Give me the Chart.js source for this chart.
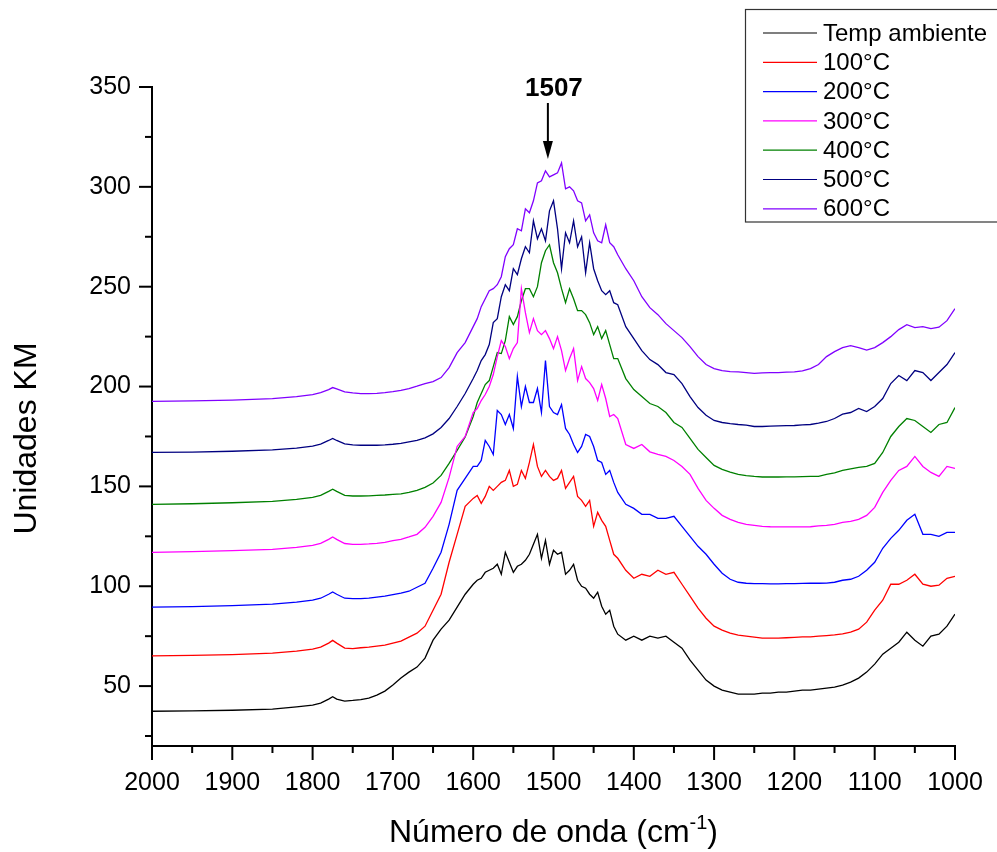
<!DOCTYPE html>
<html>
<head>
<meta charset="utf-8">
<script src="https://cdn.jsdelivr.net/npm/chart.js@4.4.0/dist/chart.umd.min.js"></script>
<style>
  html, body { margin: 0; padding: 0; background: #fff; }
</style>
</head>
<body>
<canvas id="chart" width="997" height="852"></canvas>
<script>
// wavenumber grid (cm-1), shared by all spectra
const wn = [
  2000, 1950, 1900, 1850, 1820, 1800, 1790, 1780, 1775, 1770, 1760, 1750, 1740, 1730, 1720, 1710, 1700, 1690, 1680, 1670, 1660, 1650, 1640, 1630, 1620, 1610, 1600,
  1595, 1590, 1585, 1580, 1575, 1570, 1565, 1560, 1555, 1550, 1545, 1540, 1535, 1530, 1525, 1520, 1515, 1510, 1505, 1500, 1495, 1490, 1485, 1480, 1475, 1470, 1465, 1460, 1455, 1450, 1445, 1440, 1435, 1430, 1425, 1420,
  1410, 1400, 1390, 1380, 1370, 1360, 1350, 1340, 1330, 1320, 1310, 1300, 1290, 1280, 1270, 1260, 1250, 1240, 1230, 1220, 1210, 1200, 1190, 1180, 1170, 1160, 1150, 1140, 1130, 1120, 1110, 1100, 1090, 1080, 1070, 1060, 1050, 1040, 1030, 1020, 1010, 1000
];

const tAmb = [
  37.4, 37.6, 37.9, 38.5, 39.6, 40.5, 41.5, 43.5, 44.7, 43.5, 42.5, 42.8, 43.2, 44, 45.5, 47.5, 50.5, 54, 57, 59.5, 64, 73, 78.5, 83, 89.5, 96, 101,
  103, 104, 107, 108, 109, 111, 106, 117, 112, 107, 110, 111, 113, 116, 121, 126, 114, 123, 111, 118, 116, 117, 106, 108, 111, 103, 100, 99, 96, 94, 97, 90, 86, 88, 80, 76,
  73, 75, 73, 75, 74, 75, 72, 69, 63, 58, 53, 50, 48, 47, 46, 46, 46, 46.5, 46.5, 47, 47, 47.5, 48, 48, 48.5, 49, 49.5, 50.5, 52, 54, 57, 61, 66, 69, 72, 77, 73, 70, 75, 76, 80, 86
];
const t100 = [
  65.1, 65.4, 65.8, 66.5, 67.5, 68.5, 69.5, 71.5, 72.9, 71.5, 69, 68.8, 69.2, 69.5, 70, 70.5, 71.5, 72.5, 74.5, 76.5, 80, 88, 96, 112, 126, 140, 144,
  145.5, 141.5, 145, 150, 148, 150, 152, 153, 158, 150, 151, 158, 154, 162, 171, 160, 155, 158, 155, 153, 154, 158, 149, 152, 155, 145, 143, 140, 143, 130, 137, 133, 130, 123, 116, 114,
  108, 104, 106, 105, 108, 106, 107, 101, 95, 89, 84, 80, 78, 76.5, 75.5, 75, 74.5, 74, 74, 74, 74.2, 74.4, 74.6, 74.6, 75, 75.3, 75.6, 76.2, 77, 78.5, 82, 88, 93, 101, 101, 103, 106, 101, 100, 100.5, 104, 105
];
const t200 = [
  89.5, 89.8, 90.3, 91, 92, 93, 94, 96, 97.1, 96, 94, 93.8, 93.8, 94, 94.5, 95, 95.8, 96.5, 97.5, 99.5, 101.5, 109, 117, 131, 148, 154, 160,
  160, 163, 173, 170, 166, 188, 186, 181, 186, 179, 205, 190, 200, 192, 192, 199, 187, 213, 190, 187, 186, 191, 179, 176, 171, 167, 170, 176, 175, 170, 163, 162, 156, 158, 152, 147,
  141, 139, 136, 136, 134, 134, 135, 130, 125, 120, 116, 111, 106.5, 103.5, 102, 101.5, 101.3, 101.3, 101.2, 101.2, 101.3, 101.3, 101.4, 101.5, 101.5, 101.6, 102, 103, 103.5, 105, 108, 112, 119, 124, 128, 133, 136, 126, 126, 125, 127, 127
];
const t300 = [
  117, 117.3, 117.8, 118.5, 119.5, 120.5, 121.5, 123.5, 124.7, 123.5, 121.4, 121, 121, 121.2, 121.5, 122, 122.8, 123.5, 124.7, 126, 129.5, 135, 142, 154.5, 170, 175, 187,
  189, 193, 196, 200, 206, 215, 223, 220, 214, 219, 222, 249, 237, 227, 234, 228, 226, 228, 224, 219, 225, 218, 208, 214, 219, 203, 210, 204, 202, 199, 193, 201, 194, 185, 186, 184,
  171, 169, 171, 167.3, 166, 165, 163, 160, 156, 149, 143, 139, 135.5, 133.5, 132, 131, 130.5, 130, 129.8, 129.7, 129.7, 129.7, 129.7, 129.8, 130.2, 130.5, 131, 132, 132.5, 133.5, 135.5, 139.5, 147, 153, 158, 160, 165, 160, 157, 155, 160, 159
];
const t400 = [
  141, 141.3, 141.8, 142.5, 143.5, 144.5, 145.5, 147.5, 148.6, 147.5, 145.5, 145.2, 145.2, 145.3, 145.5, 145.7, 146, 146.3, 147, 148, 149.5, 151.7, 155.5, 161.5, 168, 174.7, 185,
  192, 196.5, 201, 203, 210, 217, 216.5, 223, 235, 231, 235, 243, 249, 249, 245, 250, 262, 268, 271, 262, 257, 249, 242, 249, 244, 238, 238, 236, 232, 226, 230, 224, 228, 221, 214, 214,
  204, 198.5, 195, 191.5, 190, 187, 182, 179.5, 174, 168.5, 164.5, 160.5, 158.5, 157.2, 156, 155.4, 155, 154.7, 154.7, 154.7, 154.8, 154.8, 154.9, 155, 155, 156, 156.8, 158, 158.8, 159.5, 160, 161.5, 167, 175, 180, 184, 183, 180, 177, 181, 182, 189.5
];
const t500 = [
  167, 167.2, 167.6, 168.3, 169.2, 170.2, 171.2, 173, 174, 173, 171.3, 170.8, 170.6, 170.6, 170.6, 170.8, 171.1, 171.5, 172.3, 173.1, 174.3, 176.3, 179.5, 184, 190, 196.5, 204,
  208, 213, 216, 221, 232, 234, 245, 251, 248, 259, 256, 264, 270, 267, 283, 274, 279, 273, 288, 293, 279, 259, 277, 272, 283, 270, 275, 257, 272, 259, 253, 248, 246, 248, 242, 241,
  230, 224, 218, 213.5, 211, 207, 206, 201.5, 195, 189.5, 185.6, 183, 182, 181.4, 181, 180.7, 180, 180, 180.2, 180.3, 180.4, 180.5, 180.8, 181, 181.7, 182.5, 184, 186.2, 187, 189, 187.5, 190, 194, 201.5, 205.5, 203, 208, 207, 203, 207, 211, 217
];
const t600 = [
  192.6, 192.8, 193.2, 194, 195, 196, 197, 198.5, 199.5, 198.8, 197.3, 196.8, 196.5, 196.5, 196.6, 197, 197.5, 198.1, 199, 200.2, 201.5, 202.5, 204.5, 209.5, 217, 222, 230,
  234, 240, 244, 248, 249, 251, 255, 265, 269, 271, 279, 278, 289, 287, 293, 302, 303, 308, 305, 306, 307, 312, 299, 300, 298, 293, 292, 283, 286, 277, 273, 272, 281, 272, 270, 266,
  259, 253, 245, 239.5, 236, 231.5, 228, 224.5, 220, 215, 211, 209, 208, 207.5, 207.3, 207, 206.6, 206.8, 207, 207, 207.2, 207.3, 207.8, 209, 211, 215, 217.5, 219.5, 220.5, 219.5, 218.3, 219.5, 222, 225, 228.5, 231, 229.5, 230, 229, 229.7, 233, 239
];

const labels = ["Temp ambiente", "100°C", "200°C", "300°C", "400°C", "500°C", "600°C"];
const series = [tAmb, t100, t200, t300, t400, t500, t600];
const colors = ["#000000", "#ff0000", "#0000ff", "#ff00ff", "#008000", "#000080", "#8000ff"];

const xTicks = [2000, 1900, 1800, 1700, 1600, 1500, 1400, 1300, 1200, 1100, 1000];
const xMinor = [1950, 1850, 1750, 1650, 1550, 1450, 1350, 1250, 1150, 1050];
const yTicks = [50, 100, 150, 200, 250, 300, 350];
const yMinor = [25, 75, 125, 175, 225, 275, 325];

// peak annotation
const peakLabel = 1507;
const arrowTip = 314;
const arrowTail = 342;

const FONT = "'Liberation Sans', Arial, sans-serif";
Chart.defaults.font.family = FONT;
Chart.defaults.color = "#000";

// tick marks, legend box, axis titles, peak arrow
const decorations = {
  id: "decorations",
  afterDraw(chart) {
    const { ctx, chartArea: area, scales: { x, y } } = chart;
    ctx.save();
    ctx.strokeStyle = "#000";
    ctx.lineWidth = 2;

    const yTick = (v, len) => {
      const py = y.getPixelForValue(v);
      ctx.beginPath(); ctx.moveTo(area.left, py); ctx.lineTo(area.left - len, py); ctx.stroke();
    };
    const xTick = (v, len) => {
      const px = x.getPixelForValue(v);
      ctx.beginPath(); ctx.moveTo(px, area.bottom); ctx.lineTo(px, area.bottom + len); ctx.stroke();
    };
    yTicks.forEach(v => yTick(v, 13));
    yMinor.forEach(v => yTick(v, 7));
    xTicks.forEach(v => xTick(v, 14));
    xMinor.forEach(v => xTick(v, 7));

    // axis titles
    ctx.fillStyle = "#000";
    ctx.font = "32px " + FONT;
    ctx.textAlign = "center";
    ctx.textBaseline = "middle";
    ctx.save();
    ctx.translate(area.left - 125, (area.top + area.bottom) / 2 + 22);
    ctx.rotate(-Math.PI / 2);
    ctx.fillText("Unidades KM", 0, 0);
    ctx.restore();

    const main = "Número de onda (cm";
    const sup = "-1";
    const end = ")";
    ctx.textAlign = "left";
    ctx.textBaseline = "alphabetic";
    ctx.font = "32px " + FONT;
    const wMain = ctx.measureText(main).width;
    const wEnd = ctx.measureText(end).width;
    ctx.font = "20px " + FONT;
    const wSup = ctx.measureText(sup).width;
    let tx = (area.left + area.right) / 2 - (wMain + wSup + wEnd) / 2;
    const ty = 842;
    ctx.font = "32px " + FONT;
    ctx.fillText(main, tx, ty);
    tx += wMain;
    ctx.font = "20px " + FONT;
    ctx.fillText(sup, tx, ty - 13);
    tx += wSup;
    ctx.font = "32px " + FONT;
    ctx.fillText(end, tx, ty);

    // peak arrow
    const ax = x.getPixelForValue(peakLabel);
    const tipY = y.getPixelForValue(arrowTip);
    const tailY = y.getPixelForValue(arrowTail);
    ctx.beginPath(); ctx.moveTo(ax, tailY); ctx.lineTo(ax, tipY - 10); ctx.stroke();
    ctx.beginPath();
    ctx.moveTo(ax, tipY);
    ctx.lineTo(ax - 5, tipY - 18);
    ctx.lineTo(ax + 5, tipY - 18);
    ctx.closePath();
    ctx.fill();
    ctx.font = "bold 26px " + FONT;
    ctx.textAlign = "center";
    ctx.fillText(String(peakLabel), ax + 6, tailY - 7);

    // legend
    ctx.lineWidth = 1.2;
    ctx.strokeStyle = "#333";
    ctx.strokeRect(745.5, 9.5, 260, 212.5);
    ctx.font = "24px " + FONT;
    ctx.textAlign = "left";
    ctx.textBaseline = "middle";
    chart.data.datasets.forEach((ds, i) => {
      const ly = 33 + i * 29.3;
      ctx.strokeStyle = ds.borderColor;
      ctx.beginPath(); ctx.moveTo(763, ly); ctx.lineTo(817, ly); ctx.stroke();
      ctx.fillStyle = "#000";
      ctx.fillText(ds.label, 823, ly + 1);
    });
    ctx.restore();
  }
};

new Chart(document.getElementById("chart"), {
  type: "line",
  data: {
    datasets: labels.map((label, i) => ({
      label,
      data: wn.map((w, j) => ({ x: w, y: series[i][j] })),
      borderColor: colors[i],
      borderWidth: 1.3,
      pointRadius: 0,
      tension: 0,
      fill: false
    }))
  },
  options: {
    responsive: false,
    animation: false,
    layout: { padding: { top: 87, right: 42, left: 0, bottom: 0 } },
    plugins: { legend: { display: false }, tooltip: { enabled: false } },
    scales: {
      x: {
        type: "linear",
        reverse: true,
        min: 1000,
        max: 2000,
        afterBuildTicks: s => { s.ticks = xTicks.map(v => ({ value: v })); },
        afterFit: s => { s.height = 106; s.paddingLeft = 0; s.paddingRight = 0; },
        grid: { display: false, drawTicks: false },
        border: { display: true, color: "#000", width: 2 },
        ticks: { color: "#000", font: { size: 25 }, padding: 22, maxRotation: 0, autoSkip: false, callback: v => String(v) }
      },
      y: {
        min: 20,
        max: 350,
        afterBuildTicks: s => { s.ticks = yTicks.map(v => ({ value: v })); },
        afterFit: s => { s.width = 152; s.paddingTop = 0; s.paddingBottom = 0; },
        grid: { display: false, drawTicks: false },
        border: { display: true, color: "#000", width: 2 },
        ticks: { color: "#000", font: { size: 25 }, padding: 21, callback: v => String(v) }
      }
    }
  },
  plugins: [decorations]
});
</script>
</body>
</html>
